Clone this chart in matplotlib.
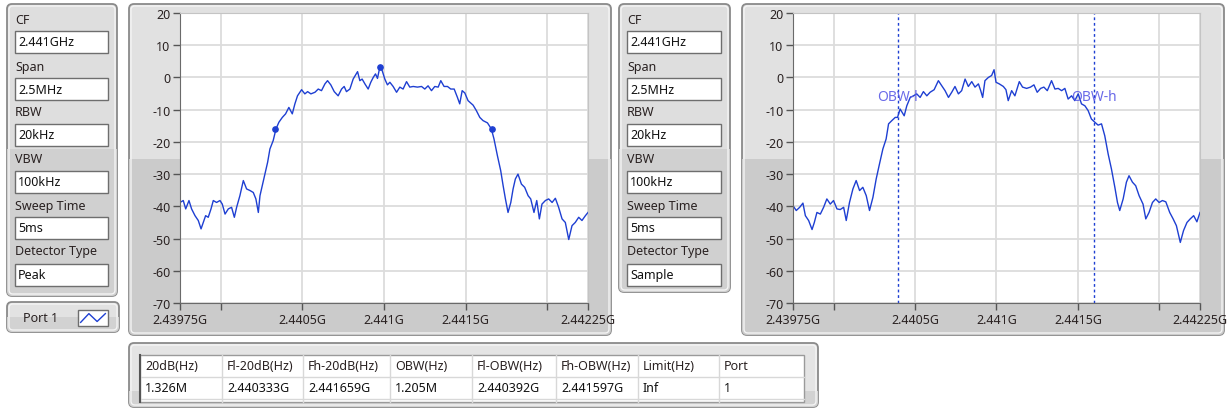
import matplotlib
matplotlib.use('Agg')
import matplotlib.pyplot as plt
from matplotlib.patches import FancyBboxPatch, Rectangle

plt.rcParams['font.family'] = ['Noto Sans', 'DejaVu Sans']
plt.rcParams['axes.unicode_minus'] = False

W, H = 1228, 414

f_start = 2.43975  # GHz
f_stop = 2.44225

# Peak detector trace: offset from f_start (kHz), level (dB)
peak_off = [0, 20, 35, 55, 71, 92, 112, 129, 143, 157, 173, 190, 204, 224, 245, 259, 276, 296, 316, 333,
            347, 367, 388, 408, 429, 449, 465, 480, 490, 504, 520, 537, 551, 571, 588, 606, 627, 647, 667, 688,
            704, 720, 745, 765, 782, 802, 827, 847, 867, 888, 904, 924, 945, 969, 990, 1006, 1020, 1041, 1061, 1088,
            1102, 1116, 1133, 1153, 1169, 1184, 1198, 1210, 1224, 1239, 1255, 1271, 1286, 1306, 1327, 1347, 1367, 1388, 1408, 1429,
            1455, 1480, 1500, 1520, 1541, 1561, 1582, 1598, 1618, 1639, 1659, 1680, 1700, 1714, 1729, 1745, 1765, 1796, 1816, 1837,
            1857, 1884, 1908, 1924, 1945, 1965, 1980, 1994, 2010, 2027, 2041, 2055, 2071, 2092, 2112, 2133, 2149, 2169, 2186, 2202,
            2218, 2239, 2259, 2280, 2300, 2320, 2341, 2361, 2382, 2402, 2422, 2443, 2463, 2484, 2500]
peak_db = [-38.8, -38.2, -40.8, -38.2, -40.8, -42.9, -44.4, -47.0, -45.0, -42.9, -43.4, -40.8, -38.2, -38.8, -38.2, -39.3, -42.4, -40.8, -40.3, -43.4,
           -40.3, -36.7, -32.0, -34.6, -35.1, -35.7, -37.7, -41.9, -36.7, -33.6, -30.0, -26.3, -22.2, -19.6, -16.0, -13.9, -12.4, -11.3, -9.3, -11.3,
           -8.2, -5.7, -3.8, -5.1, -4.4, -5.1, -4.6, -3.6, -4.1, -2.0, -1.0, -2.3, -4.4, -5.7, -3.6, -2.8, -4.4, -3.6, -0.5, 1.8,
           -1.0, -0.5, -2.0, -3.6, -1.5, 0.0, 1.1, -0.3, 3.1, 2.1, -0.5, -2.3, -1.5, -2.8, -4.6, -3.0, -3.6, -1.3, -3.0, -2.8,
           -3.0, -2.8, -3.6, -2.6, -4.1, -2.8, -3.0, -1.0, -2.8, -2.8, -3.6, -3.6, -6.2, -8.2, -4.1, -4.8, -7.2, -8.6, -10.3, -12.4,
           -13.4, -14.1, -16.0, -19.1, -24.3, -28.9, -33.6, -37.7, -41.9, -38.8, -34.6, -31.5, -30.0, -33.1, -34.1, -36.7, -37.7, -41.9, -38.2, -43.9,
           -39.3, -38.2, -37.7, -38.8, -37.5, -40.3, -43.9, -45.0, -50.3, -46.0, -45.0, -43.4, -44.4, -42.9, -41.9]
marker_freq = [2.440333, 2.440974, 2.441659]
marker_db = [-16.0, 3.1, -16.0]

# Sample detector trace
samp_off = [0, 20, 41, 61, 76, 96, 117, 131, 147, 168, 188, 208, 229, 249, 270, 290, 311, 327, 347, 368,
            388, 409, 429, 450, 470, 491, 511, 531, 552, 572, 587, 607, 628, 642, 658, 683, 699, 720, 740, 760,
            781, 801, 822, 842, 867, 893, 914, 934, 955, 975, 995, 1016, 1036, 1057, 1077, 1098, 1118, 1139, 1153, 1165,
            1179, 1200, 1220, 1235, 1247, 1267, 1292, 1308, 1322, 1343, 1363, 1390, 1410, 1435, 1459, 1480, 1500, 1521, 1541, 1562,
            1588, 1609, 1629, 1650, 1670, 1690, 1711, 1731, 1752, 1772, 1793, 1813, 1833, 1854, 1874, 1895, 1915, 1936, 1956, 1977,
            1993, 2007, 2028, 2048, 2064, 2085, 2105, 2126, 2150, 2167, 2187, 2208, 2228, 2249, 2269, 2290, 2314, 2335, 2355, 2379,
            2399, 2420, 2440, 2461, 2481, 2500]
samp_db = [-39.8, -41.3, -40.3, -39.0, -42.9, -44.4, -47.2, -45.0, -41.9, -42.4, -40.3, -37.7, -39.3, -38.2, -40.8, -41.0, -40.3, -44.4, -38.8, -34.6,
           -32.0, -35.1, -34.1, -36.7, -41.3, -37.2, -31.5, -26.9, -22.2, -19.1, -14.4, -13.4, -12.4, -12.4, -9.8, -11.9, -8.8, -6.2, -5.7, -5.1,
           -6.2, -4.4, -5.7, -4.6, -3.8, -1.0, -2.6, -4.1, -6.2, -4.6, -2.8, -5.1, -4.1, -0.5, -2.8, -1.3, -3.0, -2.0, -4.1, -6.2,
           -1.0, 0.0, 0.6, 2.4, -1.5, -2.0, -2.8, -3.8, -7.2, -4.1, -5.7, -1.3, -3.0, -3.4, -3.0, -2.3, -4.6, -3.4, -3.0, -4.1,
           -1.0, -3.6, -3.4, -4.1, -3.4, -6.7, -5.7, -7.2, -5.1, -8.2, -8.8, -10.3, -12.9, -13.9, -14.8, -14.4, -18.1, -23.8, -28.4, -34.1,
           -38.8, -41.3, -37.7, -32.5, -30.5, -32.5, -33.6, -36.7, -39.3, -43.9, -41.9, -38.8, -37.7, -38.8, -38.2, -38.6, -41.9, -43.9, -46.0, -51.2,
           -47.5, -45.0, -43.9, -42.9, -44.8, -41.9]
obw_lines = [2.440392, 2.441597]
obw_names = ['OBW-l', 'OBW-h']
obw_label_db = -5.8

setting_names = ['CF', 'Span', 'RBW', 'VBW', 'Sweep Time', 'Detector Type']
settings_1 = ['2.441GHz', '2.5MHz', '20kHz', '100kHz', '5ms', 'Peak']
settings_2 = ['2.441GHz', '2.5MHz', '20kHz', '100kHz', '5ms', 'Sample']

table_head = ['20dB(Hz)', 'Fl-20dB(Hz)', 'Fh-20dB(Hz)', 'OBW(Hz)', 'Fl-OBW(Hz)', 'Fh-OBW(Hz)', 'Limit(Hz)', 'Port']
table_vals = ['1.326M', '2.440333G', '2.441659G', '1.205M', '2.440392G', '2.441597G', 'Inf', '1']

xticks = [2.43975, 2.44, 2.4405, 2.441, 2.4415, 2.442, 2.44225]
xtick_labels = ['2.43975G', '', '2.4405G', '2.441G', '2.4415G', '', '2.44225G']
yticks = [-70, -60, -50, -40, -30, -20, -10, 0, 10, 20]

TRACE = '#1e3fd2'
TXT = '#2a2222'

fig = plt.figure(figsize=(W / 100, H / 100), dpi=100)
fig.patch.set_facecolor('white')
bg = fig.add_axes([0, 0, 1, 1])
bg.set_xlim(0, W)
bg.set_ylim(H, 0)
bg.axis('off')


def frame(x0, y0, x1, y1, split, light='#e1e1e1', dark='#cbcbcb'):
    outer = FancyBboxPatch((x0, y0), x1 - x0, y1 - y0, boxstyle='round,pad=0,rounding_size=5',
                           fc=light, ec='#8a8a8a', lw=1.3, zorder=1)
    bg.add_patch(outer)
    low = Rectangle((x0, split), x1 - x0, y1 - split, fc=dark, ec='none', zorder=1.1)
    bg.add_patch(low)
    low.set_clip_path(outer)
    rim = FancyBboxPatch((x0 + 2, y0 + 2), x1 - x0 - 4, y1 - y0 - 4, boxstyle='round,pad=0,rounding_size=4',
                         fc='none', ec='#f4f4f4', lw=1.0, zorder=1.2)
    bg.add_patch(rim)


def settings_panel(x0, x1, values, bottom):
    frame(x0, 5, x1, bottom, 150, light='#dedede', dark='#d0d0d0')
    label_y = [20, 67, 113, 160, 207, 252]
    box_y = [32, 79, 125, 172, 218, 265]
    for name, val, ly, by in zip(setting_names, values, label_y, box_y):
        bg.text(x0 + 8, ly, name, fontsize=9, color=TXT, va='center', ha='left', zorder=3)
        bg.add_patch(Rectangle((x0 + 8, by), x1 - x0 - 17, 22, fc='white', ec='#6e6e6e', lw=1.0, zorder=2))
        bg.text(x0 + 11, by + 11, val, fontsize=9, color='#111111', va='center', ha='left', zorder=3)


settings_panel(7, 117, settings_1, 297)
settings_panel(619, 730, settings_2, 293)

# legend box
frame(7, 303, 119, 333, 318, light='#e2e2e2', dark='#d2d2d2')
bg.text(23, 319, 'Port 1', fontsize=9, color=TXT, va='center', ha='left', zorder=3)
bg.add_patch(Rectangle((78, 311), 30, 16, fc='white', ec='#6e6e6e', lw=1.0, zorder=2))
icon_ax = fig.add_axes([79 / W, 1 - 326 / H, 28 / W, 14 / H])
icon_ax.plot([0, 1, 2, 3], [0, 1, 0.1, 1], color=TRACE, lw=1)
icon_ax.set_xlim(-0.2, 3.2)
icon_ax.set_ylim(-0.3, 1.3)
icon_ax.axis('off')

# chart frames
frame(129, 5, 611, 336, 160)
frame(742, 5, 1224, 336, 160)


def plot_axes(x0, y0, x1, y1):
    ax = fig.add_axes([x0 / W, 1 - y1 / H, (x1 - x0) / W, (y1 - y0) / H])
    ax.set_facecolor('white')
    ax.set_xlim(f_start, f_stop)
    ax.set_ylim(-70, 20)
    ax.set_xticks(xticks)
    ax.set_xticklabels(xtick_labels)
    ax.set_yticks(yticks)
    ax.grid(True, color='#dcdcdc', lw=1.3)
    ax.set_axisbelow(True)
    for s in ['left', 'bottom']:
        ax.spines[s].set_color('#6a6a6a')
    for s in ['top', 'right']:
        ax.spines[s].set_color('#c4c4c4')
    ax.tick_params(axis='both', direction='out', length=5, width=1, color='#555555',
                   labelsize=9, labelcolor=TXT, pad=2)
    return ax


ax1 = plot_axes(180, 14, 588, 304)
f1 = [f_start + o * 1e-6 for o in peak_off]
ax1.plot(f1, peak_db, color=TRACE, lw=1)
ax1.plot(marker_freq, marker_db, 'o', color=TRACE, ms=3.8, mec=TRACE)

ax2 = plot_axes(793, 14, 1200, 304)
f2 = [f_start + o * 1e-6 for o in samp_off]
ax2.plot(f2, samp_db, color=TRACE, lw=1)
for fx, name in zip(obw_lines, obw_names):
    ax2.axvline(fx, color=TRACE, lw=1, ls=(0, (2, 2)))
    ax2.text(fx, obw_label_db, name, fontsize=10, color='#5a5ae6', ha='center', va='center', alpha=0.9)

# results table
frame(129, 344, 818, 408, 392, light='#e4e4e4', dark='#d2d2d2')
cols = [140, 222, 303, 390, 472, 556, 638, 719, 804]
bg.add_patch(Rectangle((140, 356), 664, 47, fc='white', ec='#9a9a9a', lw=1.0, zorder=2))
bg.plot([140, 804], [378, 378], color='#d8d8d8', lw=1, zorder=2.5)
bg.plot([140, 804], [400, 400], color='#d8d8d8', lw=1, zorder=2.5)
bg.plot([140, 140], [356, 403], color='#555555', lw=1.5, zorder=2.6)
for cx in cols[1:-1]:
    bg.plot([cx, cx], [356, 403], color='#d8d8d8', lw=1, zorder=2.5)
for i in range(len(table_head)):
    bg.text(cols[i] + 5, 367, table_head[i], fontsize=9, color=TXT, va='center', ha='left', zorder=3)
    bg.text(cols[i] + 5, 389, table_vals[i], fontsize=9, color='#111111', va='center', ha='left', zorder=3)

fig.savefig('out.png', dpi=100)
